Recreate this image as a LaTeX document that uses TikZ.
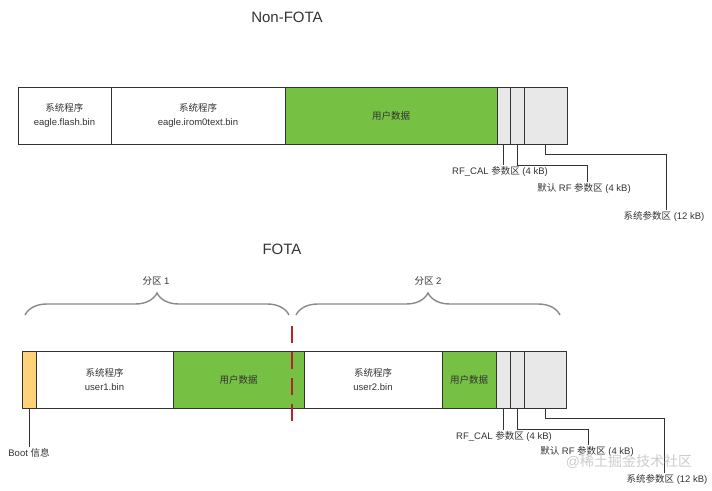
\documentclass[tikz,border=0pt]{standalone}
\usepackage{fontspec}
\setmainfont{Liberation Sans}
\newfontfamily\cjk{Noto Sans CJK SC}
\usepackage{xcolor}
\usetikzlibrary{positioning, decorations.pathreplacing}
\newcommand{\zhtxt}[1]{{\cjk #1}}
\definecolor{segline}{HTML}{333333}
\definecolor{userfill}{HTML}{76C043}
\definecolor{parfill}{HTML}{E8E8E8}
\definecolor{bootfill}{HTML}{FFD27A}
\definecolor{cutred}{HTML}{B0262B}
\definecolor{bracegray}{HTML}{8A8A8A}

\begin{document}
\begin{tikzpicture}[x=1pt, y=-1pt,
        every node/.style={font=\fontsize{9.5}{14}\selectfont, text=black!80},
        seg/.style={rectangle, draw=segline, line width=0.9pt, inner sep=0pt, outer sep=0pt, minimum height=57pt, align=center},
        usr/.style={seg, fill=userfill},
        par/.style={seg, fill=parfill},
        lbl/.style={inner sep=1pt, anchor=north},
        leader/.style={draw=segline, line width=0.7pt},
        cut/.style={draw=cutred, line width=2.2pt, dash pattern=on 17pt off 9pt},
        grp/.style={draw=bracegray, line width=1.4pt, decorate, decoration={brace, amplitude=22pt}}
    ]
        \path[use as bounding box] (0,0) rectangle (712,490);
        % Non-FOTA
        \node[font=\fontsize{15}{18}\selectfont] (t1) at (287,17) {Non-FOTA};
        \node[seg, minimum width=93pt, anchor=north west] (a1) at (18,87) {\zhtxt{系统程序}\\eagle.flash.bin};
        \node[seg, minimum width=174pt, right=0pt of a1] (a2) {\zhtxt{系统程序}\\eagle.irom0text.bin};
        \node[usr, minimum width=212pt, right=0pt of a2] (a3) {\zhtxt{用户数据}};
        \node[par, minimum width=13pt, right=0pt of a3] (a4) {};
        \node[par, minimum width=14pt, right=0pt of a4] (a5) {};
        \node[par, minimum width=43pt, right=0pt of a5] (a6) {};
        \node[lbl] (la4) at (500,165) {RF\_CAL \zhtxt{参数区} (4 kB)};
        \node[lbl] (la5) at (584,182) {\zhtxt{默认} RF \zhtxt{参数区} (4 kB)};
        \node[lbl] (la6) at (664,210) {\zhtxt{系统参数区} (12 kB)};
        \draw[leader] (a4.south) -- (la4.north -| a4.south);
        \draw[leader] (a5.south) -- ++(0,21) -| (la5.north -| 587,0);
        \draw[leader] (a6.south) -- ++(0,10) -| (la6.north -| 666,0);
        % FOTA
        \node[font=\fontsize{15}{18}\selectfont] (t2) at (282,249) {FOTA};
        \node[seg, fill=bootfill, minimum width=14pt, anchor=north west] (b1) at (22,351) {};
        \node[seg, minimum width=137pt, right=0pt of b1] (b2) {\zhtxt{系统程序}\\user1.bin};
        \node[usr, minimum width=131pt, right=0pt of b2] (b3) {\zhtxt{用户数据}};
        \node[seg, minimum width=138pt, right=0pt of b3] (b4) {\zhtxt{系统程序}\\user2.bin};
        \node[usr, minimum width=54pt, right=0pt of b4] (b5) {\zhtxt{用户数据}};
        \node[par, minimum width=14pt, right=0pt of b5] (b6) {};
        \node[par, minimum width=14pt, right=0pt of b6] (b7) {};
        \node[par, minimum width=42pt, right=0pt of b7] (b8) {};
        \node[lbl] (lb1) at (29,447) {Boot \zhtxt{信息}};
        \node[lbl] (lb6) at (504,430) {RF\_CAL \zhtxt{参数区} (4 kB)};
        \node[lbl] (lb7) at (587,445) {\zhtxt{默认} RF \zhtxt{参数区} (4 kB)};
        \node[lbl] (lb8) at (667,473) {\zhtxt{系统参数区} (12 kB)};
        \draw[leader] (b1.south) -- (lb1.north -| b1.south);
        \draw[leader] (b6.south) -- (lb6.north -| b6.south);
        \draw[leader] (b7.south) -- ++(0,21) -| (lb7.north -| 588,0);
        \draw[leader] (b8.south) -- ++(0,10) -| (lb8.north -| 664,0);
        % partitions
        \coordinate (p1l) at (25,315);
        \coordinate (p1r) at (289,315);
        \coordinate (p2l) at (296,315);
        \coordinate (p2r) at (560,315);
        \draw[grp] (p1l) -- (p1r);
        \draw[grp] (p2l) -- (p2r);
        \node (g1) at (156,281) {\zhtxt{分区} 1};
        \node (g2) at (428,281) {\zhtxt{分区} 2};
        \coordinate (cuttop) at (292,326);
        \coordinate (cutbot) at (292,428);
        \draw[cut] (cuttop) -- (cutbot);
        \node[font=\fontsize{14}{16}\selectfont, text=black!20] (wm) at (629,462) {@\zhtxt{稀土掘金技术社区}};
    \end{tikzpicture}
\end{document}
